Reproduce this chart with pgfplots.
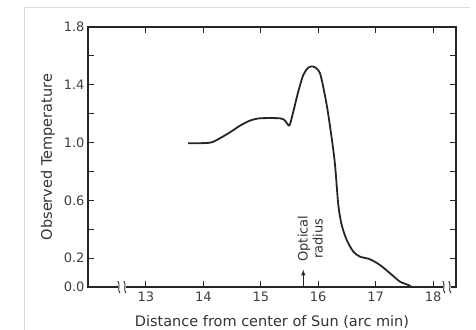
\documentclass[border=0pt]{standalone}
\usepackage{fontspec}
\setmainfont{DejaVu Sans}
\usepackage{pgfplots}
\pgfplotsset{compat=1.18}
\begin{document}
\begin{tikzpicture}
\useasboundingbox (-88pt,-42pt) rectangle (388pt,287pt);
\draw[black!15, line width=0.8pt] (-64pt,-45pt) -- (-64pt,280pt) -- (382pt,280pt);
\begin{axis}[
  scale only axis, width=368pt, height=260pt,
  xmin=11.99, xmax=18.40, ymin=0, ymax=1.8,
  xtick={13,14,15,16,17,18},
  xticklabels={13,14,15,16,17,18},
  ytick={0,0.2,0.4,0.6,0.8,1.0,1.2,1.4,1.6,1.8},
  yticklabels={0.0,0.2,,0.6,,1.0,,1.4,,1.8},
  tick align=inside, major tick length=6pt,
  tick style={black!85, line width=1pt},
  axis line style={black!85, line width=1.2pt},
  /pgf/number format/assume math mode=true,
  tick label style={font=\fontsize{13}{15}\selectfont, text=black!75},
  label style={font=\fontsize{14.5}{16}\selectfont, text=black!80},
  xlabel={Distance from center of Sun (arc min)},
  ylabel={Observed Temperature},
  ylabel style={yshift=2pt},
  xlabel style={yshift=-7pt},
  xticklabel style={yshift=-1pt},
  clip=false,
]
\addplot[black!85, line width=1.8pt, smooth, tension=0.45] coordinates {
(13.732,0.995) (14.115,0.999) (14.289,1.030) (14.463,1.071) (14.638,1.117)
(14.812,1.152) (14.986,1.168) (15.334,1.168) (15.422,1.152) (15.497,1.118)
(15.566,1.214) (15.653,1.353) (15.740,1.468) (15.828,1.519) (15.915,1.526)
(16.031,1.480) (16.148,1.260) (16.235,1.030) (16.293,0.845) (16.350,0.568)
(16.409,0.429) (16.497,0.325) (16.611,0.245) (16.728,0.210) (16.902,0.192)
(17.077,0.152) (17.251,0.095) (17.425,0.037) (17.570,0.014) (17.629,0.0)
};
\draw[-latex, black!85, line width=1pt] (axis cs:15.74,0) -- (axis cs:15.74,0.12);
\node[rotate=90, align=center, font=\fontsize{13}{15}\selectfont, text=black!80]
  at (axis cs:15.86,0.335) {Optical\\radius};
\coordinate (b1) at (axis cs:12.58,0);
\coordinate (b2) at (axis cs:18.24,0);
\end{axis}
\foreach \b in {b1,b2}{
  \fill[white] ([xshift=-4pt,yshift=-1.5pt]\b) rectangle ([xshift=4pt,yshift=1.5pt]\b);
  \draw[black!85, line width=0.9pt] ([xshift=-4pt,yshift=6pt]\b) .. controls +(3pt,-3pt) and +(-3pt,3pt) .. ([xshift=-2pt,yshift=-6pt]\b);
  \draw[black!85, line width=0.9pt] ([xshift=2pt,yshift=6pt]\b) .. controls +(3pt,-3pt) and +(-3pt,3pt) .. ([xshift=4pt,yshift=-6pt]\b);
}
\end{tikzpicture}
\end{document}
